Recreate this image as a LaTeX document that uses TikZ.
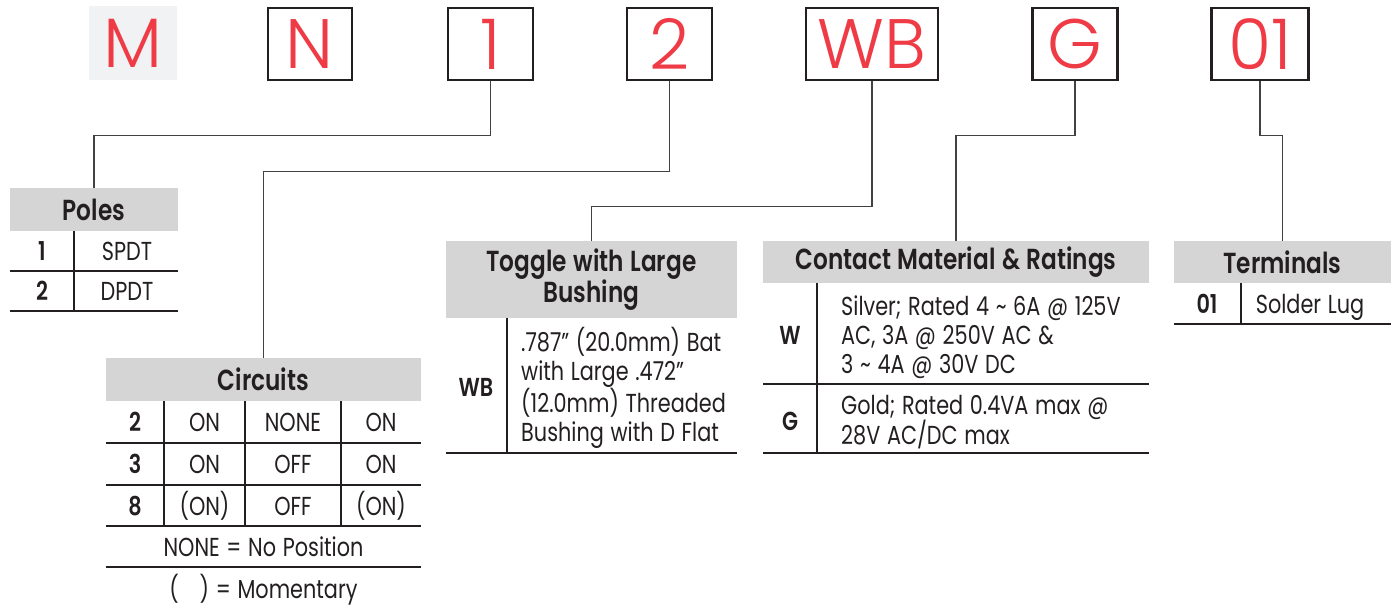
\documentclass[tikz,border=0pt]{standalone}
\usepackage{fontspec}
\setmainfont{Poppins}[FakeStretch=0.8,WordSpace=1.2,BoldFont={* SemiBold}]
\newfontfamily\codefont{Poppins}[UprightFont={* Light}]
\usetikzlibrary{positioning}
\definecolor{codered}{HTML}{EE3B45}
\definecolor{headgray}{HTML}{D5D5D6}
\definecolor{mgray}{HTML}{F1F2F4}
\definecolor{inkdark}{HTML}{231F20}
\tikzset{
  codebox/.style={draw=inkdark,line width=2.8pt,minimum height=72pt,inner sep=0pt,text=codered,font=\codefont\fontsize{70}{70}\selectfont},
  headbox/.style={fill=headgray,inner sep=0pt,align=center,text=inkdark,font=\bfseries\fontsize{29}{31}\selectfont},
  cell/.style={inner sep=0pt,anchor=base,text=inkdark,font=\fontsize{26}{29}\selectfont},
  keycell/.style={cell,font=\bfseries\fontsize{26}{29}\selectfont},
  para/.style={inner sep=0pt,align=left,anchor=west,text=inkdark,font=\fontsize{26}{29}\selectfont},
  tabline/.style={draw=inkdark,line width=1.6pt},
  conn/.style={draw=inkdark!85,line width=1.3pt}
}

\begin{document}
\begin{tikzpicture}[x=1pt,y=-1pt]
\useasboundingbox (0,0) rectangle (1394,607);

\node[codebox,draw=none,fill=mgray,minimum width=88pt,minimum height=74pt] (cM) at (133,43) {M};
\node[codebox,minimum width=84pt] (cN) at (310,44) {N};
\node[codebox,minimum width=85pt] (cOne) at (490.5,44) {1};
\node[codebox,minimum width=85pt] (cTwo) at (669.5,44) {2};
\node[codebox,minimum width=132pt] (cWB) at (872,44) {WB};
\node[codebox,minimum width=85pt] (cG) at (1075,44) {G};
\node[codebox,minimum width=97pt] (cZO) at (1260,44) {01};

\node[headbox,minimum width=168pt,minimum height=43pt] (hdPoles) at (94,209.5) {Poles};
\node[keycell] (pa) at (42,260.5) {1};
\node[cell] (pat) at (127,260.5) {SPDT};
\node[keycell] (pb) at (42,300.5) {2};
\node[cell] (pbt) at (127,300.5) {DPDT};
\draw[tabline] (10,271) -- (178,271) (10,311) -- (178,311) (74,231) -- (74,311);

\node[headbox,minimum width=315pt,minimum height=43pt] (hdCirc) at (263.5,379.5) {Circuits};
\node[keycell] (ca) at (135,431.5) {2};
\node[cell] (ca1) at (204.5,431.5) {ON};
\node[cell] (ca2) at (293,431.5) {NONE};
\node[cell] (ca3) at (381,431.5) {ON};
\node[keycell] (cb) at (135,473.5) {3};
\node[cell] (cb1) at (204.5,473.5) {ON};
\node[cell] (cb2) at (293,473.5) {OFF};
\node[cell] (cb3) at (381,473.5) {ON};
\node[keycell] (cc) at (135,515) {8};
\node[cell] (cc1) at (204.5,515) {(ON)};
\node[cell] (cc2) at (293,515) {OFF};
\node[cell] (cc3) at (381,515) {(ON)};
\node[cell] (cnone) at (263.5,556.5) {NONE = No Position};
\node[cell] (cmom) at (263.5,598.5) {(\hspace{0.8em}) = Momentary};
\draw[tabline] (106,443) -- (421,443) (106,485) -- (421,485) (106,526) -- (421,526) (106,567) -- (421,567);
\draw[tabline] (164,401) -- (164,526) (245,401) -- (245,526) (341,401) -- (341,526);

\node[headbox,minimum width=291pt,minimum height=77pt] (hdTog) at (591.5,279.5) {Toggle with Large\\Bushing};
\node[keycell] (ta) at (476,396.5) {WB};
\node[para] (tat) at (521,388) {.787” (20.0mm) Bat\\with Large .472”\\(12.0mm) Threaded\\Bushing with D Flat};
\draw[tabline] (446,453) -- (737,453) (507,318) -- (507,453);

\node[headbox,minimum width=386pt,minimum height=42pt] (hdCont) at (956,262) {Contact Material \& Ratings};
\node[keycell] (ka) at (790,344.5) {W};
\node[para] (kat) at (841,337) {Silver; Rated 4 \textasciitilde{} 6A @ 125V\\AC, 3A @ 250V AC \&\\3 \textasciitilde{} 4A @ 30V DC};
\node[keycell] (kb) at (790,430.5) {G};
\node[para] (kbt) at (841,422) {Gold; Rated 0.4VA max @\\28V AC/DC max};
\draw[tabline] (763,384) -- (1149,384) (763,453) -- (1149,453) (817,283) -- (817,453);

\node[headbox,minimum width=217pt,minimum height=42pt] (hdTerm) at (1282.5,262) {Terminals};
\node[keycell] (ma) at (1207,313) {01};
\node[cell] (mat) at (1310,313) {Solder Lug};
\draw[tabline] (1174,324) -- (1391,324) (1241,283) -- (1241,324);

\draw[conn] (cOne.south) -- ++(0,54) -| (hdPoles.north);
\draw[conn] (cTwo.south) -- ++(0,90) -| (hdCirc.north);
\draw[conn] (cWB.south) -- ++(0,125) -| (hdTog.north);
\draw[conn] (cG.south) -- ++(0,54) -| (hdCont.north);
\draw[conn] (cZO.south) -- ++(0,54) -| (hdTerm.north);
\end{tikzpicture}
\end{document}
